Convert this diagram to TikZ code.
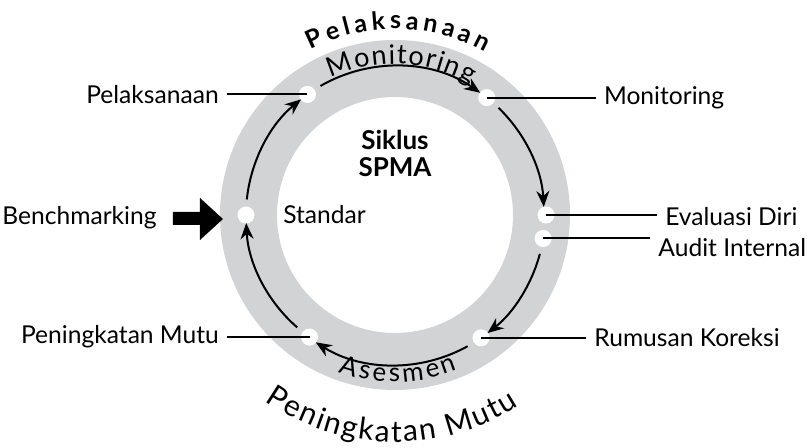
\documentclass[tikz,border=0pt]{standalone}
\usepackage{fontspec}
\setmainfont{Lato}
\usepackage{tikz}
\usetikzlibrary{arrows.meta}
\usetikzlibrary{positioning}
\usetikzlibrary{decorations.text}
\definecolor{ringgray}{RGB}{209,211,212}
\tikzset{
	dot node/.style={circle,fill=white,inner sep=0pt,minimum size=8.5pt},
	label node/.style={font=\fontsize{12.3}{14}\selectfont,inner sep=4pt},
	cycle arc/.style={line width=1pt,->},
	label line/.style={line width=1pt},
	curved/.style={decorate,decoration={text along path,text align=fit to path,text={#1}}}
}

\begin{document}
\begin{tikzpicture}[x=0.5pt,y=0.5pt,>={Stealth[length=8pt,width=6.5pt]}]
            \useasboundingbox (-395,-233) rectangle (412,215);
            \fill [ringgray,even odd rule] (0,0) circle (175) (0,0) circle (118);
            % points on the cycle
            \node [dot node] (1) at (180:149) {};
            \node [dot node] (2) at (126:149) {};
            \node [dot node] (3) at (52:149) {};
            \node [dot node] (4) at (0:151) {};
            \node [dot node] (5) at (-9:150) {};
            \node [dot node] (6) at (-55:150) {};
            \node [dot node] (7) at (-125:149) {};
            % the cycle
            \draw [cycle arc] (174:149) arc[start angle=174,end angle=129.1,radius=149];
            \draw [cycle arc] (120:149) arc[start angle=120,end angle=55.1,radius=149];
            \draw [cycle arc] (46:149) arc[start angle=46,end angle=3.1,radius=149];
            \draw [cycle arc] (-15:150) arc[start angle=-15,end angle=-51.9,radius=150];
            \draw [cycle arc] (-61:150) arc[start angle=-61,end angle=-121.9,radius=150];
            \draw [cycle arc] (-131:149) arc[start angle=-131,end angle=-176.9,radius=149];
            % labels
            \node [label node,right=10pt of 1] (l1) {Standar};
            \node [label node,left=35.7pt of 2] (l2) {Pelaksanaan};
            \node [label node,right=50pt of 3] (l3) {Monitoring};
            \node [label node,right=51pt of 4,yshift=-1pt] (l4) {Evaluasi Diri};
            \node [label node,right=49pt of 5,yshift=-4.75pt] (l5) {Audit Internal};
            \node [label node,right=48pt of 6] (l6) {Rumusan Koreksi};
            \node [label node,left=36.7pt of 7] (l7) {Peningkatan Mutu};
            \draw [label line] (2.center) -- (2 -| l2.east);
            \draw [label line] (3.center) -- (3 -| l3.west);
            \draw [label line] (4.center) -- (4 -| l4.west);
            \draw [label line] (5.center) -- (5 -| l5.west);
            \draw [label line] (6.center) -- (6 -| l6.west);
            \draw [label line] (7.center) -- (7 -| l7.east);
            % benchmarking
            \fill (-222,3) -- (-195,3) -- (-195,17) -- (-172,-4) -- (-195,-25) -- (-195,-10) -- (-222,-10) -- cycle;
            \node [label node,anchor=east] (0) at (-230,-3) {Benchmarking};
            \node [font=\bfseries\fontsize{13}{13.5}\selectfont,align=center] (c) at (0,62) {Siklus\\SPMA};
            % texts along the ring
            \path [curved={|\bfseries\fontsize{12.5}{14}\selectfont|Pelaksanaan}] (117:186) arc[start angle=117,end angle=61,radius=186];
            \path [curved={|\fontsize{13.5}{15}\selectfont|Monitoring}] (115:151) arc[start angle=115,end angle=60,radius=151];
            \path [curved={|\fontsize{13}{15}\selectfont|Asesmen}] (-110:167) arc[start angle=-110,end angle=-68,radius=167];
            \path [curved={|\fontsize{15}{17}\selectfont|Peningkatan Mutu}] (-125:227) arc[start angle=-125,end angle=-57,radius=227];
\end{tikzpicture}
\end{document}
